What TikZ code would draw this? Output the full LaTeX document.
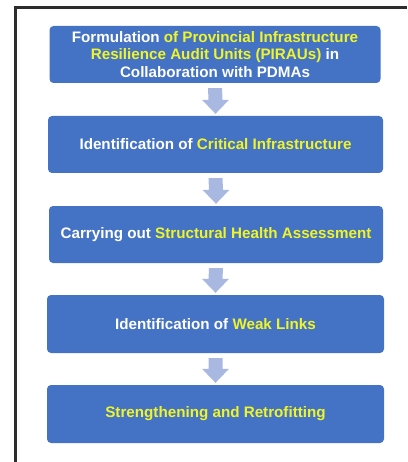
\documentclass[tikz,border=0pt]{standalone}
\usepackage{fontspec}
\setmainfont{Liberation Sans}
\usetikzlibrary{calc}
\definecolor{boxblue}{RGB}{68,114,196}
\definecolor{arrowblue}{RGB}{168,184,224}
\definecolor{hiyellow}{RGB}{240,245,40}
\definecolor{framegray}{RGB}{45,45,45}
\newcommand{\hl}[1]{\textcolor{hiyellow}{#1}}
\newcommand{\blockarrow}[2]{%
  \fill[arrowblue] ($(#1.south)+(-7,5)$) -- ($(#1.south)+(7,5)$)
    -- ($(#2.north)+(7,-16)$) -- ($(#2.north)+(13.5,-16)$)
    -- ($(#2.north)+(0,-2)$) -- ($(#2.north)+(-13.5,-16)$)
    -- ($(#2.north)+(-7,-16)$) -- cycle;}
\begin{document}
\begin{tikzpicture}[x=1pt,y=-1pt,
  stagebox/.style={rectangle, rounded corners=4pt, fill=boxblue, draw=none,
    text=white, font=\bfseries\fontsize{15.2}{17.5}\selectfont, align=center,
    minimum height=57pt, inner sep=0pt}]
\useasboundingbox (0,0) rectangle (407,462);
\draw[line width=3pt, framegray] (407,7.5) -- (15.5,7.5) -- (15.5,462);
\node[stagebox, minimum width=331pt] (b1) at (215,54.5)
  {Formulation \hl{of Provincial Infrastructure}\\\hl{Resilience Audit Units (PIRAUs)} in\\Collaboration with PDMAs};
\node[stagebox, minimum width=335pt] (b2) at (215.5,144.5)
  {Identification of \hl{Critical Infrastructure}};
\node[stagebox, minimum width=334pt] (b3) at (216,234.5)
  {Carrying out \hl{Structural Health Assessment}};
\node[stagebox, minimum width=337pt, minimum height=58pt] (b4) at (215.5,324)
  {Identification of \hl{Weak Links}};
\node[stagebox, minimum width=337pt, minimum height=58pt] (b5) at (215.5,414)
  {\hl{Strengthening and Retrofitting}};
\blockarrow{b1}{b2}
\blockarrow{b2}{b3}
\blockarrow{b3}{b4}
\blockarrow{b4}{b5}
\end{tikzpicture}
\end{document}
